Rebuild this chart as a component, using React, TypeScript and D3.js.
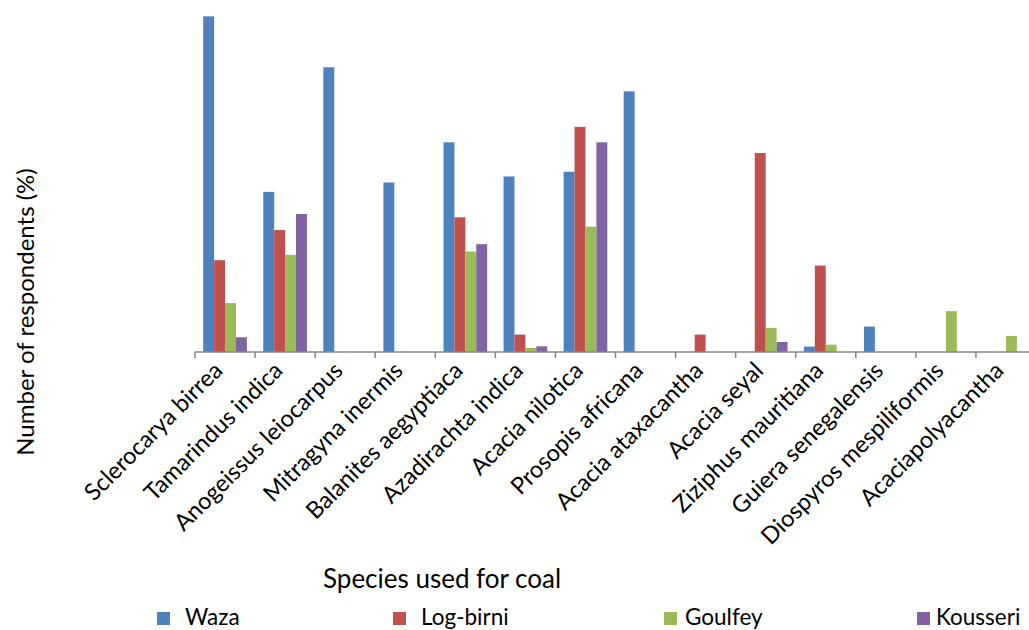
import React from "react";
import * as d3 from "d3";

const categories = [
  "Sclerocarya birrea",
  "Tamarindus indica",
  "Anogeissus leiocarpus",
  "Mitragyna inermis",
  "Balanites aegyptiaca",
  "Azadirachta indica",
  "Acacia nilotica",
  "Prosopis africana",
  "Acacia ataxacantha",
  "Acacia seyal",
  "Ziziphus mauritiana",
  "Guiera senegalensis",
  "Diospyros mespiliformis",
  "Acaciapolyacantha",
];

const seriesNames = ["Waza", "Log-birni", "Goulfey", "Kousseri"];

const waza = [50.1, 23.9, 42.5, 25.3, 31.3, 26.2, 26.9, 38.9, 0, 0, 0.8, 3.8, 0, 0];
const logBirni = [13.7, 18.2, 0, 0, 20.1, 2.6, 33.6, 0, 2.6, 29.7, 12.9, 0, 0, 0];
const goulfey = [7.3, 14.5, 0, 0, 15.0, 0.6, 18.7, 0, 0, 3.6, 1.1, 0, 6.1, 2.4];
const kousseri = [2.2, 20.6, 0, 0, 16.1, 0.85, 31.3, 0, 0, 1.5, 0, 0, 0, 0];

const seriesValues = [waza, logBirni, goulfey, kousseri];
const colors = ["#4F81BD", "#C0504D", "#9BBB59", "#8064A2"];

const FONT = "Lato, 'Open Sans', sans-serif";

export default function App() {
  const baseY = 352;
  const x0 = d3.scaleBand<string>().domain(categories).range([195, 1036]).paddingInner(0).paddingOuter(0);
  const x1 = d3.scaleBand<string>().domain(seriesNames).range([0, x0.bandwidth()]).paddingInner(0).paddingOuter(0.75);
  const y = d3.scaleLinear().domain([0, 50]).range([baseY, 17]);

  const ticks = categories.map((c) => x0(c)!);
  const legendSquares = [157, 393, 664, 917];
  const legendTexts = [185, 421, 685, 936];

  return (
    <svg width={1029} height={630} style={{ position: "absolute", left: 0, top: 0, background: "#fff" }}>
      <g>
        {categories.map((c, ci) => (
          <g key={c} transform={`translate(${x0(c)},0)`}>
            {seriesNames.map((s, si) => {
              const v = seriesValues[si][ci];
              if (!v) return null;
              return (
                <rect
                  key={s}
                  x={x1(s)}
                  y={y(v)}
                  width={x1.bandwidth()}
                  height={baseY - y(v)}
                  fill={colors[si]}
                />
              );
            })}
          </g>
        ))}
      </g>
      <line x1={195} x2={1036} y1={baseY} y2={baseY} stroke="#868686" strokeWidth={1.5} />
      {ticks.map((t, i) => (
        <line key={i} x1={t} x2={t} y1={baseY} y2={baseY + 6} stroke="#868686" strokeWidth={1.5} />
      ))}
      {categories.map((c) => {
        const cx = x0(c)! + x0.bandwidth() / 2;
        const ty = 372;
        return (
          <text
            key={c}
            transform={`translate(${cx - 1},${ty}) rotate(-45)`}
            textAnchor="end"
            fontFamily={FONT}
            fontSize={23.5}
            fill="#000"
          >
            {c}
          </text>
        );
      })}
      <text
        transform={`translate(34,312) rotate(-90)`}
        textAnchor="middle"
        fontFamily={FONT}
        fontSize={24}
        fill="#000"
      >
        Number of respondents  (%)
      </text>
      <text x={323} y={588} fontFamily={FONT} fontSize={26} fill="#000">
        Species used for coal
      </text>
      {seriesNames.map((s, i) => (
        <g key={s}>
          <rect x={legendSquares[i]} y={612} width={13} height={13} fill={colors[i]} />
          <text x={legendTexts[i]} y={625} fontFamily={FONT} fontSize={22.5} fill="#000">
            {s}
          </text>
        </g>
      ))}
    </svg>
  );
}
